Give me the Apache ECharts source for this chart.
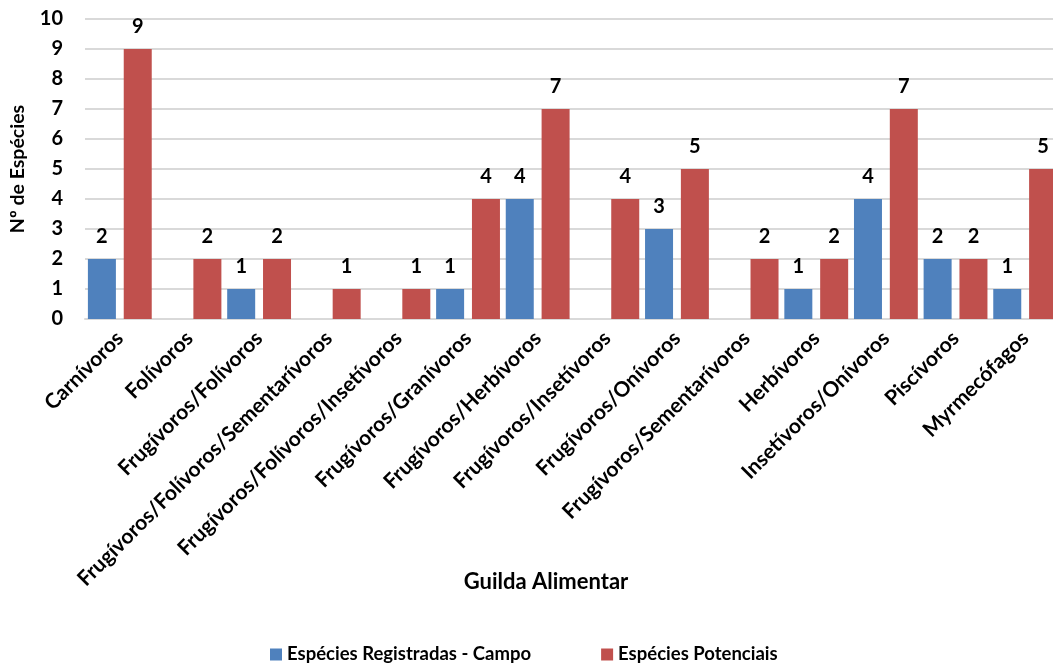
<!DOCTYPE html>
<html>
<head>
<meta charset="utf-8">
<script src="https://cdn.jsdelivr.net/npm/echarts@6/dist/echarts.min.js"></script>
<style>
  html, body { margin: 0; padding: 0; background: #fff; }
  #chart { width: 1053px; height: 666px; }
</style>
</head>
<body>
<div id="chart"></div>
<script>
// Feeding guilds (x axis categories)
const guildas = [
  'Carnívoros',
  'Folívoros',
  'Frugívoros/Folívoros',
  'Frugívoros/Folívoros/Sementarívoros',
  'Frugívoros/Folívoros/Insetívoros',
  'Frugívoros/Granívoros',
  'Frugívoros/Herbívoros',
  'Frugívoros/Insetívoros',
  'Frugívoros/Onívoros',
  'Frugívoros/Sementarívoros',
  'Herbívoros',
  'Insetívoros/Onívoros',
  'Piscívoros',
  'Myrmecófagos'
];

// Species recorded in the field (null = none recorded)
const registradas = [2, null, 1, null, null, 1, 4, null, 3, null, 1, 4, 2, 1];

// Potential species
const potenciais = [9, 2, 2, 1, 1, 4, 7, 4, 5, 2, 2, 7, 2, 5];

const yTicks = [0, 1, 2, 3, 4, 5, 6, 7, 8, 9, 10];

const FONT = 'Lato, "Noto Sans", sans-serif';

const chart = echarts.init(document.getElementById('chart'), null, { renderer: 'canvas' });

const labelStyle = {
  show: true,
  position: 'top',
  distance: 12,
  fontFamily: FONT,
  fontWeight: 'bold',
  fontSize: 20,
  color: '#000'
};

chart.setOption({
  animation: false,
  textStyle: { fontFamily: FONT },
  grid: {
    left: 85, top: 19, width: 975, height: 300,
    containLabel: false,
    outerBoundsMode: 'none'
  },
  legend: {
    bottom: -3,
    left: 265,
    itemWidth: 12,
    itemHeight: 12,
    itemGap: 70,
    icon: 'rect',
    textStyle: { fontFamily: FONT, fontWeight: 'bold', fontSize: 18.5, color: '#000' },
    data: ['Espécies Registradas - Campo', 'Espécies Potenciais']
  },
  graphic: [{
    type: 'text',
    x: 546,
    y: 571,
    style: {
      text: 'Guilda Alimentar',
      fontFamily: FONT,
      fontWeight: 'bold',
      fontSize: 22,
      fill: '#000',
      align: 'center',
      verticalAlign: 'top'
    }
  }],
  xAxis: {
    type: 'category',
    data: guildas,
    axisLine: { show: true, lineStyle: { color: '#d9d9d9', width: 2 } },
    axisTick: { show: false },
    axisLabel: {
      rotate: 45,
      interval: 0,
      margin: 16,
      fontFamily: FONT,
      fontWeight: 'bold',
      fontSize: 21,
      color: '#000'
    }
  },
  yAxis: {
    type: 'value',
    min: yTicks[0],
    max: yTicks[yTicks.length - 1],
    interval: 1,
    name: 'Nº de Espécies',
    nameLocation: 'middle',
    nameGap: 57,
    nameRotate: 90,
    nameTextStyle: { fontFamily: FONT, fontWeight: 'bold', fontSize: 19.5, color: '#000' },
    axisLine: { show: false },
    axisTick: { show: false },
    splitLine: { lineStyle: { color: '#d9d9d9', width: 2 } },
    axisLabel: {
      margin: 22,
      fontFamily: FONT,
      fontWeight: 'bold',
      fontSize: 20,
      color: '#000'
    }
  },
  series: [
    {
      name: 'Espécies Registradas - Campo',
      type: 'bar',
      data: registradas,
      barWidth: 28,
      barGap: '28%',
      itemStyle: { color: '#4f81bd' },
      label: labelStyle
    },
    {
      name: 'Espécies Potenciais',
      type: 'bar',
      data: potenciais,
      barWidth: 28,
      barGap: '28%',
      itemStyle: { color: '#c0504d' },
      label: labelStyle
    }
  ]
});
</script>
</body>
</html>
